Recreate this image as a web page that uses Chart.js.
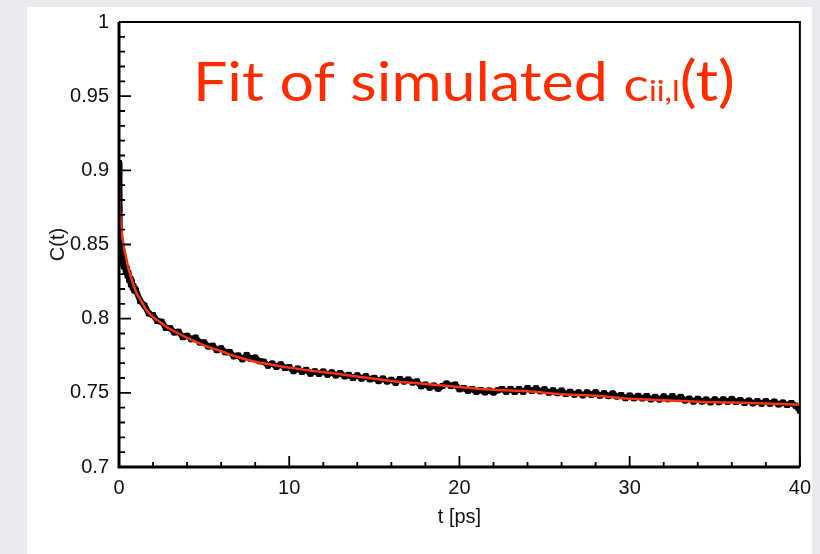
<!DOCTYPE html>
<html lang="en">
<head>
    <meta charset="UTF-8">
    <title>Fit of simulated c_ii,l(t)</title>
    <script src="https://cdn.jsdelivr.net/npm/chart.js"></script>
    <style>
        * { box-sizing: border-box; margin: 0; padding: 0; }
        body { width: 820px; height: 554px; background-color: #e9eaee; overflow: hidden; position: relative; }
        .panel { position: absolute; left: 27px; top: 7px; width: 785px; height: 547px; background-color: white; }
        #corrChart { position: absolute; left: 0; top: 0; }
    </style>
</head>
<body>
    <div class="panel"></div>
    <canvas id="corrChart" width="820" height="554"></canvas>

    <script>
        // simulated correlation function (black)
        const simT = [0, 0.03, 0.06, 0.1, 0.13, 0.16, 0.2, 0.25, 0.3, 0.35, 0.4, 0.45, 0.5, 0.55, 0.6, 0.65, 0.7, 0.75, 0.8, 0.85, 0.9, 0.95,
            1, 1.25, 1.5, 1.75, 2, 2.25, 2.5, 2.75, 3, 3.25, 3.5, 3.75, 4, 4.25, 4.5, 4.75, 5, 5.25, 5.5, 5.75, 6, 6.25, 6.5, 6.75,
            7, 7.25, 7.5, 7.75, 8, 8.25, 8.5, 8.75, 9, 9.25, 9.5, 9.75, 10, 10.25, 10.5, 10.75, 11, 11.25, 11.5, 11.75,
            12, 12.25, 12.5, 12.75, 13, 13.25, 13.5, 13.75, 14, 14.25, 14.5, 14.75, 15, 15.25, 15.5, 15.75, 16, 16.25, 16.5, 16.75,
            17, 17.25, 17.5, 17.75, 18, 18.25, 18.5, 18.75, 19, 19.25, 19.5, 19.75, 20, 20.25, 20.5, 20.75, 21, 21.25, 21.5, 21.75,
            22, 22.25, 22.5, 22.75, 23, 23.25, 23.5, 23.75, 24, 24.25, 24.5, 24.75, 25, 25.25, 25.5, 25.75, 26, 26.25, 26.5, 26.75,
            27, 27.25, 27.5, 27.75, 28, 28.25, 28.5, 28.75, 29, 29.25, 29.5, 29.75, 30, 30.25, 30.5, 30.75, 31, 31.25, 31.5, 31.75,
            32, 32.25, 32.5, 32.75, 33, 33.25, 33.5, 33.75, 34, 34.25, 34.5, 34.75, 35, 35.25, 35.5, 35.75, 36, 36.25, 36.5, 36.75,
            37, 37.25, 37.5, 37.75, 38, 38.25, 38.5, 38.75, 39, 39.25, 39.5, 39.75, 40];
        const simC = [0.905, 0.874, 0.851, 0.845, 0.839, 0.843, 0.837, 0.841, 0.835, 0.838, 0.832, 0.834, 0.829, 0.831, 0.826, 0.827, 0.823, 0.825, 0.821, 0.822, 0.819, 0.820,
            0.8190, 0.8118, 0.8088, 0.8035, 0.8024, 0.7984, 0.7980, 0.7938, 0.7936, 0.7907, 0.7912, 0.7875, 0.7885, 0.7861, 0.7872, 0.7839, 0.7840, 0.7812, 0.7818, 0.7788, 0.7800, 0.7773, 0.7776, 0.7746,
            0.7752, 0.7726, 0.7755, 0.7729, 0.7738, 0.7713, 0.7710, 0.7683, 0.7698, 0.7675, 0.7692, 0.7667, 0.7674, 0.7646, 0.7664, 0.7641, 0.7655, 0.7629, 0.7645, 0.7628,
            0.7644, 0.7622, 0.7638, 0.7617, 0.7633, 0.7611, 0.7621, 0.7600, 0.7618, 0.7596, 0.7612, 0.7591, 0.7601, 0.7579, 0.7597, 0.7576, 0.7588, 0.7567, 0.7593, 0.7576,
            0.7590, 0.7569, 0.7577, 0.7544, 0.7556, 0.7535, 0.7549, 0.7528, 0.7546, 0.7563, 0.7547, 0.7556, 0.7524, 0.7533, 0.7513, 0.7526, 0.7506, 0.7519, 0.7503, 0.7516,
            0.7502, 0.7517, 0.7526, 0.7507, 0.7526, 0.7506, 0.7525, 0.7507, 0.7532, 0.7513, 0.7531, 0.7510, 0.7524, 0.7501, 0.7517, 0.7498, 0.7516, 0.7492, 0.7507, 0.7488,
            0.7503, 0.7483, 0.7503, 0.7487, 0.7504, 0.7481, 0.7497, 0.7478, 0.7496, 0.7475, 0.7485, 0.7464, 0.7482, 0.7463, 0.7480, 0.7462, 0.7479, 0.7456, 0.7473, 0.7455,
            0.7476, 0.7457, 0.7478, 0.7458, 0.7473, 0.7448, 0.7461, 0.7441, 0.7460, 0.7441, 0.7455, 0.7436, 0.7456, 0.7437, 0.7456, 0.7440, 0.7459, 0.7438, 0.7451, 0.7432,
            0.7448, 0.7429, 0.7444, 0.7427, 0.7444, 0.7427, 0.7441, 0.7422, 0.7435, 0.7418, 0.7431, 0.7413, 0.7380];

        // fitted curve (red)
        const fitT = [0, 0.05, 0.1, 0.2, 0.3, 0.4, 0.55, 0.7, 0.85, 1, 1.3, 1.6, 2, 2.5, 3, 3.5, 4, 5, 6, 7, 8, 9, 10,
            12, 14, 16, 18, 20, 22, 24, 26, 28, 30, 32, 34, 36, 38, 40];
        const fitC = [0.893, 0.875, 0.866, 0.855, 0.848, 0.842, 0.834, 0.828, 0.823, 0.818, 0.812, 0.806, 0.801, 0.797, 0.793, 0.790, 0.787, 0.782, 0.778, 0.774, 0.771, 0.769, 0.767,
            0.764, 0.761, 0.758, 0.756, 0.754, 0.752, 0.751, 0.749, 0.748, 0.746, 0.745, 0.744, 0.7435, 0.7428, 0.742];

        // axes
        const xTicks = [0, 10, 20, 30, 40];
        const xTickLabels = ['0', '10', '20', '30', '40'];
        const xMinor = [2, 4, 6, 8, 12, 14, 16, 18, 22, 24, 26, 28, 32, 34, 36, 38];
        const yTicks = [0.7, 0.75, 0.8, 0.85, 0.9, 0.95, 1];
        const yTickLabels = ['0.7', '0.75', '0.8', '0.85', '0.9', '0.95', '1'];
        const yMinor = [0.71, 0.72, 0.73, 0.74, 0.76, 0.77, 0.78, 0.79, 0.81, 0.82, 0.83, 0.84, 0.86, 0.87, 0.88, 0.89,
            0.91, 0.92, 0.93, 0.94, 0.96, 0.97, 0.98, 0.99];

        const axisFont = { family: "'Liberation Sans', Arial, sans-serif", size: 20 };
        const textColor = '#111';

        // frame with inward ticks, like the original plot
        const framePlugin = {
            id: 'frame',
            afterDatasetsDraw(chart) {
                const { ctx, chartArea: a, scales: { x, y } } = chart;
                ctx.save();
                ctx.strokeStyle = '#000';
                ctx.lineWidth = 2;
                ctx.beginPath();
                ctx.moveTo(a.left, a.top); ctx.lineTo(a.right, a.top); ctx.lineTo(a.right, a.bottom);
                ctx.stroke();
                ctx.lineWidth = 3;
                ctx.beginPath();
                ctx.moveTo(a.left, a.top); ctx.lineTo(a.left, a.bottom); ctx.lineTo(a.right, a.bottom);
                ctx.stroke();

                ctx.lineWidth = 1.8;
                ctx.beginPath();
                yTicks.forEach(v => { const p = y.getPixelForValue(v); ctx.moveTo(a.left, p); ctx.lineTo(a.left + 12, p); });
                yMinor.forEach(v => { const p = y.getPixelForValue(v); ctx.moveTo(a.left, p); ctx.lineTo(a.left + 6, p); });
                xTicks.forEach(v => { const p = x.getPixelForValue(v); ctx.moveTo(p, a.bottom); ctx.lineTo(p, a.bottom - 11); });
                xMinor.forEach(v => { const p = x.getPixelForValue(v); ctx.moveTo(p, a.bottom); ctx.lineTo(p, a.bottom - 5); });
                ctx.stroke();
                ctx.restore();
            }
        };

        // slide title in red, with the small subscript
        const titlePlugin = {
            id: 'slideTitle',
            afterDraw(chart) {
                const ctx = chart.ctx;
                const parts = [
                    { text: 'Fit of simulated ', size: 54 },
                    { text: 'c', size: 47 },
                    { text: 'ii,l', size: 29 },
                    { text: '(t)', size: 56 }
                ];
                ctx.save();
                ctx.fillStyle = '#ff2c00';
                ctx.textBaseline = 'alphabetic';
                let total = 0;
                parts.forEach(p => {
                    ctx.font = p.size + 'px Lato, sans-serif';
                    p.w = ctx.measureText(p.text).width;
                    total += p.w;
                });
                ctx.translate(193, 101);
                ctx.scale(542 / total, 1);
                let px = 0;
                parts.forEach(p => {
                    ctx.font = p.size + 'px Lato, sans-serif';
                    ctx.fillText(p.text, px, 0);
                    px += p.w;
                });
                ctx.restore();
            }
        };

        const ctx = document.getElementById('corrChart').getContext('2d');
        new Chart(ctx, {
            type: 'scatter',
            data: {
                datasets: [
                    {
                        label: 'fit',
                        data: fitT.map((t, i) => ({ x: t, y: fitC[i] })),
                        showLine: true,
                        borderColor: '#ff3311',
                        borderWidth: 2.5,
                        pointRadius: 0,
                        cubicInterpolationMode: 'monotone'
                    },
                    {
                        label: 'simulation',
                        data: simT.map((t, i) => ({ x: t, y: simC[i] })),
                        showLine: true,
                        borderColor: '#000',
                        borderWidth: 6,
                        borderJoinStyle: 'round',
                        borderCapStyle: 'round',
                        backgroundColor: '#000',
                        pointStyle: 'rect',
                        pointRadius: 3.5,
                        pointBorderWidth: 1,
                        pointBorderColor: '#000'
                    }
                ]
            },
            options: {
                responsive: false,
                animation: false,
                events: [],
                layout: { padding: { top: 20, right: 20, left: 0, bottom: 0 } },
                plugins: { legend: { display: false }, tooltip: { enabled: false } },
                scales: {
                    x: {
                        type: 'linear', min: 0, max: 40,
                        afterBuildTicks: s => { s.ticks = xTicks.map(v => ({ value: v })); },
                        afterFit: s => { s.height = 87; },
                        grid: { display: false, drawTicks: false },
                        border: { display: false },
                        ticks: {
                            font: axisFont, color: textColor, padding: 9, maxRotation: 0, autoSkip: false,
                            callback: v => xTickLabels[xTicks.indexOf(v)]
                        },
                        title: { display: true, text: 't [ps]', font: axisFont, color: textColor, padding: { top: 0, bottom: 25 } }
                    },
                    y: {
                        type: 'linear', min: 0.7, max: 1,
                        afterBuildTicks: s => { s.ticks = yTicks.map(v => ({ value: v })); },
                        afterFit: s => { s.width = 119; },
                        grid: { display: false, drawTicks: false },
                        border: { display: false },
                        ticks: {
                            font: axisFont, color: textColor, padding: 10, autoSkip: false,
                            callback: v => yTickLabels[yTicks.indexOf(v)]
                        },
                        title: { display: true, text: 'C(t)', font: axisFont, color: textColor, padding: { top: 46, bottom: 0 } }
                    }
                }
            },
            plugins: [framePlugin, titlePlugin]
        });
    </script>
</body>
</html>
